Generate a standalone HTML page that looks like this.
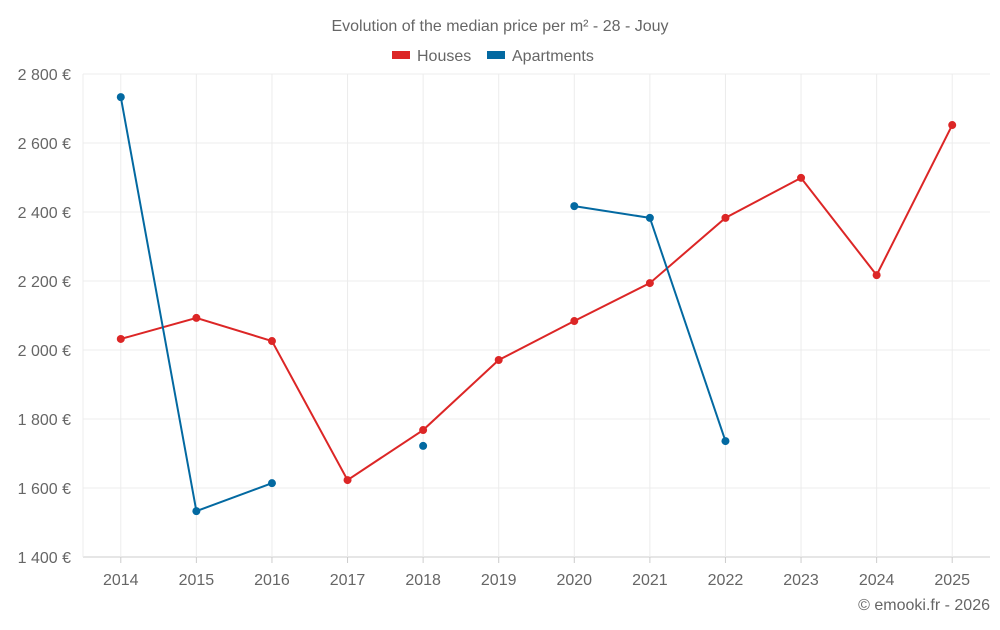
<!DOCTYPE html>
<html><head><meta charset="utf-8"><style>
body{margin:0;background:#fff;font-family:"Liberation Sans",sans-serif;}
svg text{font-family:"Liberation Sans",sans-serif;fill:#666;}
</style></head><body>
<svg id="chart" width="1000" height="625">
<text x="500" y="31" text-anchor="middle" font-size="16">Evolution of the median price per m² - 28 - Jouy</text>
<g>
<g><rect x="392" y="51" width="18" height="8" fill="#dc2626"/><text x="417" y="61" font-size="16">Houses</text></g>
<g><rect x="487" y="51" width="18" height="8" fill="#0369a1"/><text x="512" y="61" font-size="16">Apartments</text></g>
</g>
<g id="grid"></g><g id="axes"></g><g id="series"></g>
<text x="990" y="610" text-anchor="end" font-size="16">© emooki.fr - 2026</text>
</svg>
<script>
const years=[2014,2015,2016,2017,2018,2019,2020,2021,2022,2023,2024,2025];
const houses=[2032,2093,2026,1623,1768,1971,2084,2194,2383,2499,2217,2652];
const apartments=[2733,1533,1614,null,1722,null,2417,2383,1736,null,null,null];
const yTicks=[1400,1600,1800,2000,2200,2400,2600,2800];
const L=83,R=990,T=74,B=557,yMin=1400,yMax=2800;
const ns="http://www.w3.org/2000/svg";
const step=(R-L)/years.length;
const x=i=>L+step*(i+0.5);
const y=v=>B-(v-yMin)/(yMax-yMin)*(B-T);
function mk(tag,attrs,parent){const e=document.createElementNS(ns,tag);for(const k in attrs)e.setAttribute(k,attrs[k]);document.getElementById(parent).appendChild(e);return e;}
yTicks.forEach(v=>{
 const g=mk('line',{x1:L,x2:R,y1:y(v),y2:y(v),stroke:v===yMin?'#ccc':'#ececec'},'grid');
 
 
 const t=mk('text',{x:71,y:y(v)+6,'text-anchor':'end','font-size':16},'axes');
 t.textContent=v.toLocaleString('fr-FR').replace(/\s/g,' ')+' €';
 
 
});
const lg=mk('line',{x1:L,x2:L,y1:T,y2:B,stroke:'#ececec'},'grid');


years.forEach((yr,i)=>{
 const g=mk('line',{x1:x(i),x2:x(i),y1:T,y2:B,stroke:'#ececec'},'grid');
 
 
 const tk=mk('line',{x1:x(i),x2:x(i),y1:B,y2:B+6,stroke:'#ccc'},'axes');
 
 
 const t=mk('text',{x:x(i),y:585,'text-anchor':'middle','font-size':16},'axes');
 t.textContent=yr;
 
 
});
function series(data,color,name){
 let segs=[],cur=[];
 data.forEach((v,i)=>{if(v==null){if(cur.length)segs.push(cur);cur=[];}else cur.push([x(i),y(v)]);});
 if(cur.length)segs.push(cur);
 segs.forEach(s=>{if(s.length>1){const p=mk('polyline',{points:s.map(p=>p.join(',')).join(' '),fill:'none',stroke:color,'stroke-width':2},'series');
  
  }});
 data.forEach((v,i)=>{if(v==null)return;const c=mk('circle',{cx:x(i),cy:y(v),r:4,fill:color},'series');
  
  });
}
series(houses,'#dc2626','houses');
series(apartments,'#0369a1','apartments');
</script>
</body></html>
